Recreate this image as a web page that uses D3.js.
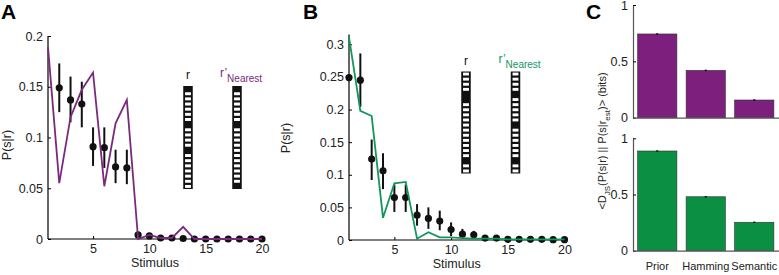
<!DOCTYPE html>
<html>
<head>
<meta charset="utf-8">
<script src="https://cdn.jsdelivr.net/npm/d3@7"></script>
<style>
  body { margin: 0; background: #fff; }
  svg { display: block; font-family: "Liberation Sans", Arial, Helvetica, sans-serif; }
</style>
</head>
<body>
<div id="fig"></div>
<script>
'use strict';

// stimuli 1..20
const stimuli = d3.range(1, 21);

// panel A: observed P(s|r) (mean, lo, hi), starting at stimulus 2
const obsA = [0.149, 0.137, 0.133, 0.091, 0.090, 0.071, 0.070, 0.004, 0.003, 0.001, 0.001, 0.0005, 0, 0, 0, 0, 0, 0, 0];
const obsALo = [0.125, 0.115, 0.110, 0.072, 0.070, 0.055, 0.054, 0.002, 0.001, 0.0, 0.0, 0.0, 0, 0, 0, 0, 0, 0, 0];
const obsAHi = [0.173, 0.160, 0.155, 0.110, 0.110, 0.088, 0.088, 0.006, 0.005, 0.002, 0.002, 0.001, 0, 0, 0, 0, 0, 0, 0];
const predA = [0.189, 0.055, 0.120, 0.147, 0.164, 0.052, 0.114, 0.137, 0.000, 0.004, 0.001, 0.001, 0.012, 0, 0, 0, 0, 0, 0, 0];

// panel B: observed starting at stimulus 1
const obsB = [0.249, 0.245, 0.124, 0.106, 0.065, 0.065, 0.038, 0.033, 0.029, 0.016, 0.009, 0.008, 0.003, 0.003, 0.001, 0.001, 0.001, 0.001, 0.0005, 0.0005];
const obsBLo = [0.249, 0.204, 0.092, 0.078, 0.043, 0.043, 0.022, 0.017, 0.015, 0.006, 0.002, 0.003, 0.001, 0.001, 0, 0, 0, 0, 0, 0];
const obsBHi = [0.249, 0.286, 0.154, 0.133, 0.085, 0.085, 0.055, 0.050, 0.045, 0.027, 0.017, 0.014, 0.005, 0.005, 0.002, 0.002, 0.002, 0.002, 0.001, 0.001];
const predB = [0.311, 0.198, 0.190, 0.034, 0.087, 0.089, 0.002, 0.012, 0.004, 0.004, 0.003, 0.002, 0.002, 0.002, 0.001, 0.001, 0.001, 0.001, 0.001, 0.001];

// response patterns (20 cells, active indices)
const barcodeCells = 20;
const rA = [0, 7, 12];
const rNearA = [0, 7, 19];
const rB = [4, 5, 17];
const rNearB = [4, 10, 17];

// panel C
const models = ['Prior', 'Hamming', 'Semantic'];
const djsTop = [0.743, 0.420, 0.157];
const djsTopErr = [0.006, 0.006, 0.006];
const djsBottom = [0.887, 0.480, 0.253];
const djsBottomErr = [0.006, 0.006, 0.006];

const xTicks = [5, 10, 15, 20];
const yTicksA = [0, 0.05, 0.1, 0.15, 0.2];
const yTicksB = [0, 0.05, 0.1, 0.15, 0.2, 0.25, 0.3];
const yTicksC = [0, 0.5, 1];

const purple = '#7d1f7c';
const purpleLine = '#7a2a7d';
const green = '#0b8f43';
const greenLine = '#12975a';

const W = 779, H = 275;
const svg = d3.select('#fig').append('svg').attr('width', W).attr('height', H);

const fmt = d => d === 0 ? '0' : String(d);

function panelLabel(txt, x, y) {
    svg.append('text').attr('x', x).attr('y', y)
        .attr('font-size', 21).attr('font-weight', 'bold').text(txt);
}

function styleAxis(g, size) {
    g.select('.domain').attr('stroke', '#000').attr('stroke-width', 1.2);
    g.selectAll('.tick line').attr('stroke', '#000');
    g.selectAll('.tick text').attr('font-size', size || 12.5).attr('fill', '#222')
        .attr('font-family', '"Liberation Sans", Arial, sans-serif');
}

function barcode(cx, top, h, active, w) {
    const cellH = h / barcodeCells;
    const g = svg.append('g');
    g.append('rect').attr('x', cx - w / 2).attr('y', top).attr('width', w).attr('height', h).attr('fill', '#111');
    g.selectAll('rect.cell').data(d3.range(barcodeCells).filter(i => !active.includes(i)))
        .join('rect').attr('class', 'cell')
        .attr('x', cx - w / 2 + 1.8).attr('y', i => top + i * cellH + 1.1)
        .attr('width', w - 3.6).attr('height', cellH - 2.2).attr('fill', '#fff');
}

function profilePanel(cfg) {
    const x = d3.scaleLinear().domain([1, 20]).range(cfg.xr);
    const y = d3.scaleLinear().domain([0, cfg.yMax]).range(cfg.yr);
    const g = svg.append('g');

    const xa = g.append('g').attr('transform', `translate(0,${cfg.yr[0]})`)
        .call(d3.axisBottom(x).tickValues(xTicks).tickSizeInner(-3).tickSizeOuter(0).tickPadding(5).tickFormat(d3.format('d')));
    xa.select('.domain').attr('d', `M${cfg.xr[0]},0H${cfg.xr[1] + 1}`);
    styleAxis(xa);

    const ya = g.append('g').attr('transform', `translate(${cfg.xr[0]},0)`)
        .call(d3.axisLeft(y).tickValues(cfg.yTicks).tickSizeInner(-3).tickSizeOuter(0).tickPadding(5).tickFormat(fmt));
    ya.select('.domain').attr('d', `M0,${cfg.yr[0]}V${y(cfg.yTop)}`);
    styleAxis(ya);

    // error bars + points
    const pts = cfg.obs.map((v, i) => ({ s: i + cfg.obsStart, v, lo: cfg.lo[i], hi: cfg.hi[i] }));
    g.selectAll('line.err').data(pts).join('line').attr('class', 'err')
        .attr('x1', d => x(d.s)).attr('x2', d => x(d.s))
        .attr('y1', d => y(d.lo)).attr('y2', d => y(d.hi))
        .attr('stroke', '#111').attr('stroke-width', 2);
    g.selectAll('circle').data(pts).join('circle')
        .attr('cx', d => x(d.s)).attr('cy', d => y(d.v)).attr('r', 3.6).attr('fill', '#111');

    // predicted line
    const line = d3.line().x((d, i) => x(stimuli[i])).y(d => y(d));
    g.append('path').datum(cfg.pred).attr('d', line)
        .attr('fill', 'none').attr('stroke', cfg.lineColor).attr('stroke-width', 1.8)
        .attr('stroke-linejoin', 'miter');

    // labels
    svg.append('text').attr('x', (cfg.xr[0] + cfg.xr[1]) / 2).attr('y', cfg.yr[0] + 28)
        .attr('text-anchor', 'middle').attr('font-size', 12.5).attr('fill', '#222').text('Stimulus');
    svg.append('text').attr('transform', `translate(${cfg.ylabX},${cfg.ylabY}) rotate(-90)`)
        .attr('text-anchor', 'middle').attr('font-size', 12.5).attr('fill', '#222').text('P(s|r)');

    // barcodes
    const bc = cfg.barcode;
    barcode(bc.x1, bc.top, bc.h, cfg.r, 9.5);
    barcode(bc.x2, bc.top, bc.h, cfg.rNear, 9.5);
    svg.append('text').attr('x', bc.x1).attr('y', bc.top - 7).attr('text-anchor', 'middle')
        .attr('font-size', 12).attr('fill', '#111').text('r');
    const t = svg.append('text').attr('x', bc.x2 - 17).attr('y', bc.top - 9)
        .attr('font-size', 12).attr('fill', cfg.lineColor);
    t.append('tspan').text('r\u2019');
    t.append('tspan').attr('dy', 5).attr('font-size', 10).text('Nearest');
}

panelLabel('A', 1, 19);
profilePanel({
    xr: [48, 262], yr: [239, 36], yMax: 0.2, yTop: 0.2, yTicks: yTicksA,
    obs: obsA, lo: obsALo, hi: obsAHi, obsStart: 2, pred: predA, lineColor: purpleLine,
    ylabX: 11, ylabY: 145,
    barcode: { x1: 188, x2: 237, top: 86, h: 103 },
    r: rA, rNear: rNearA
});

panelLabel('B', 303, 19);
profilePanel({
    xr: [349, 564.5], yr: [240, 44.3], yMax: 0.3, yTop: 0.315, yTicks: yTicksB,
    obs: obsB, lo: obsBLo, hi: obsBHi, obsStart: 1, pred: predB, lineColor: greenLine,
    ylabX: 290, ylabY: 138,
    barcode: { x1: 466, x2: 515.5, top: 71.5, h: 102 },
    r: rB, rNear: rNearB
});

// panel C
panelLabel('C', 586, 19);
function barPanel(vals, errs, yr, color, showLabels) {
    const x = d3.scaleBand().domain(models).range([633, 778.5]).paddingInner(0.19).paddingOuter(0.095);
    const y = d3.scaleLinear().domain([0, 1]).range(yr);
    const g = svg.append('g');
    g.selectAll('rect').data(vals).join('rect')
        .attr('x', (d, i) => x(models[i])).attr('width', x.bandwidth())
        .attr('y', d => y(d)).attr('height', d => y(0) - y(d))
        .attr('fill', color).attr('stroke', '#333').attr('stroke-width', 0.6);
    g.selectAll('line.err').data(vals).join('line').attr('class', 'err')
        .attr('x1', (d, i) => x(models[i]) + x.bandwidth() / 2)
        .attr('x2', (d, i) => x(models[i]) + x.bandwidth() / 2)
        .attr('y1', (d, i) => y(d + errs[i])).attr('y2', (d, i) => y(d - errs[i]))
        .attr('stroke', '#000').attr('stroke-width', 2);

    const ya = g.append('g').attr('transform', 'translate(633,0)')
        .call(d3.axisLeft(y).tickValues(yTicksC).tickSizeInner(-3).tickSizeOuter(0).tickPadding(5).tickFormat(fmt));
    styleAxis(ya);
    ya.select('.domain').attr('stroke', '#555');
    const xa = g.append('g').attr('transform', `translate(0,${yr[0]})`)
        .call(d3.axisBottom(x).tickSize(0).tickPadding(12).tickFormat(showLabels ? (d => d) : () => ''));
    styleAxis(xa, 11);
    xa.select('.domain').attr('stroke', '#555');
}
barPanel(djsTop, djsTopErr, [117.7, 5], purple, false);
barPanel(djsBottom, djsBottomErr, [250.7, 138.3], green, true);

const cl = svg.append('text').attr('transform', 'translate(606,141) rotate(-90)')
    .attr('text-anchor', 'middle').attr('font-size', 11).attr('fill', '#222');
cl.append('tspan').text('<D');
cl.append('tspan').attr('dy', 3.5).attr('font-size', 8).text('JS');
cl.append('tspan').attr('dy', -3.5).text('(P(s|r) || P(s|r');
cl.append('tspan').attr('dy', 3.5).attr('font-size', 8).text('est');
cl.append('tspan').attr('dy', -3.5).text(')> (bits)');
</script>
</body>
</html>
